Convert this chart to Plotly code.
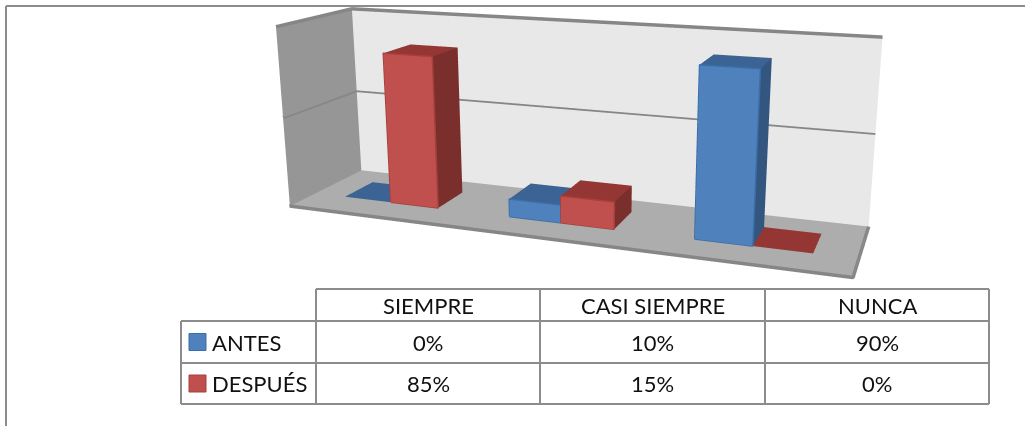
import plotly.graph_objects as go

categorias=['SIEMPRE','CASI SIEMPRE','NUNCA']
series=['ANTES','DESPUÉS']
antes=[0,10,90]
despues=[85,15,0]
etiquetas_antes=['0%','10%','90%']
etiquetas_despues=['85%','15%','0%']

W,H=1025,426
BAR_W=.29
DEPTH=(.3,.7)
GRID='#8c8c8c'
FONT='Lato'

# colours: front, top, side, edge
BLUE=('#4f81bd','#3b6394','#335680','#3a6ea5')
RED=('#c0504d','#943634','#7b2f2d','#a5403c')

#footprint shear fitted to the picture, z stays the plain data value
def place(x,y,z):
	X=x+.1162*(y-.5)-.1099*(z-49.5)/100
	Y=y+.9277*(z-49.5)/100+.16*(x-1.5)
	return X,Y,z

class Faces:
	def __init__(self):
		self.x=[];self.y=[];self.z=[];self.i=[];self.j=[];self.k=[];self.c=[]
	def quad(self,corners,color):
		n=len(self.x)
		for corner in corners:
			a,b,c=place(*corner)
			self.x.append(a);self.y.append(b);self.z.append(c)
		self.i+=[n,n];self.j+=[n+1,n+2];self.k+=[n+2,n+3];self.c+=[color,color]
	def trace(self):
		return go.Mesh3d(x=self.x,y=self.y,z=self.z,i=self.i,j=self.j,k=self.k,facecolor=self.c,
			flatshading=True,hoverinfo='skip',showscale=False,
			lighting=dict(ambient=1,diffuse=0,specular=0,roughness=1,fresnel=0))

def add_bar(faces,lines,x0,x1,value,colors):
	y0,y1=DEPTH
	faces.quad([(x0,y0,value),(x1,y0,value),(x1,y1,value),(x0,y1,value)],colors[1])
	if value>0:
		faces.quad([(x0,y0,0),(x1,y0,0),(x1,y0,value),(x0,y0,value)],colors[0])
		faces.quad([(x1,y0,0),(x1,y1,0),(x1,y1,value),(x1,y0,value)],colors[2])
		edge=[(x0,y0,0),(x1,y0,0),(x1,y0,value),(x0,y0,value),(x0,y0,0)]
		lines.append((edge,colors[3]))

def line_trace(paths,color,width):
	xs=[];ys=[];zs=[]
	for path in paths:
		for corner in path:
			a,b,c=place(*corner)
			xs.append(a);ys.append(b);zs.append(c)
		xs.append(None);ys.append(None);zs.append(None)
	return go.Scatter3d(x=xs,y=ys,z=zs,mode='lines',line=dict(color=color,width=width),hoverinfo='skip',showlegend=False)

fig=go.Figure()

walls=Faces()
walls.quad([(0,0,-1),(0,1,-1),(0,1,100),(0,0,100)],'#969696')
walls.quad([(0,1,-1),(3,1,-1),(3,1,100),(0,1,100)],'#e8e8e8')
walls.quad([(0,0,-1),(3,0,-1),(3,1,-1),(0,1,-1)],'#adadad')
fig.add_trace(walls.trace())

grid=[[(0,0,t),(0,1,t),(3,1,t)] for t in (50,100)]
grid.append([(0,1,-1),(0,0,-1),(3,0,-1),(3,1,-1)])
fig.add_trace(line_trace(grid,'#868686',7))

for values,colors,offset in ((antes,BLUE,-BAR_W),(despues,RED,0)):
	faces=Faces();edges=[]
	for n,value in enumerate(values):
		x0=n+.5+offset
		add_bar(faces,edges,x0,x0+BAR_W,value,colors)
	fig.add_trace(faces.trace())
	if edges:
		fig.add_trace(line_trace([e[0] for e in edges],colors[3],3))

hidden=dict(visible=False,showbackground=False,showgrid=False,zeroline=False,showspikes=False,autorange=False)

fig.update_layout(
	width=W,height=H,margin=dict(l=0,r=0,t=0,b=0),paper_bgcolor='white',showlegend=False,
	scene=dict(
		domain=dict(x=[215.4/W,1],y=[0,1]),bgcolor='rgba(0,0,0,0)',
		xaxis=dict(range=[-1.5,4.5],**hidden),
		yaxis=dict(range=[-1.5,2.5],**hidden),
		zaxis=dict(range=[-51.5,150.5],**hidden),
		aspectmode='manual',aspectratio=dict(x=6,y=1.8132,z=1.734),
		camera=dict(eye=dict(x=.939,y=-2.3655,z=1.1733),center=dict(x=.2976,y=-.0811,z=-.4554),up=dict(x=0,y=0,z=1),
			projection=dict(type='perspective'))
	)
)

#table under the chart, pixel layout converted to paper fractions
col_x=[181,316,540,765,989]
row_y=[289,321,363,404]

def px(x):
	return x/W
def py(y):
	return 1-y/H

def rule(x0,y0,x1,y1,color=GRID,width=2):
	fig.add_shape(type='line',xref='paper',yref='paper',x0=px(x0),y0=py(y0),x1=px(x1),y1=py(y1),line=dict(color=color,width=width))

def label(x,y,text,anchor='center'):
	fig.add_annotation(xref='paper',yref='paper',x=px(x),y=py(y),text=text,showarrow=False,xanchor=anchor,yanchor='middle',
		font=dict(family=FONT,size=22,color='#111111'))

rule(6,426,6,6)
rule(6,6,1025,6)
rule(col_x[1],row_y[0],col_x[4],row_y[0])
for y in row_y[1:]:
	rule(col_x[0],y,col_x[4],y)
rule(col_x[0],row_y[1],col_x[0],row_y[3])
for x in col_x[1:]:
	rule(x,row_y[0],x,row_y[3])

for n,cat in enumerate(categorias):
	cx=(col_x[n+1]+col_x[n+2])/2
	label(cx,(row_y[0]+row_y[1])/2,cat)
	label(cx,(row_y[1]+row_y[2])/2,etiquetas_antes[n])
	label(cx,(row_y[2]+row_y[3])/2,etiquetas_despues[n])

for name,colors,r in ((series[0],BLUE,1),(series[1],RED,2)):
	mid=(row_y[r]+row_y[r+1])/2
	fig.add_shape(type='rect',xref='paper',yref='paper',x0=px(189),x1=px(206),y0=py(mid-8.5),y1=py(mid+8.5),
		fillcolor=colors[0],line=dict(color=colors[3],width=1))
	label(210,mid,name,'left')

# the browser's default body margin would push the whole figure 8px in
fig.write_html("out.html",config=dict(displayModeBar=False),post_script="document.body.style.margin='0';")
